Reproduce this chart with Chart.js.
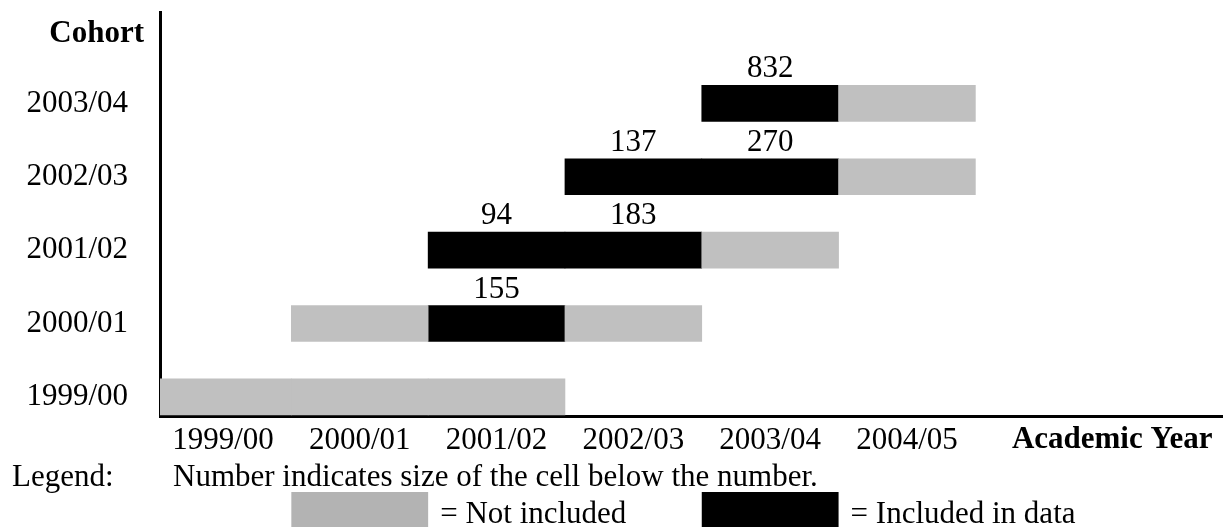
<!DOCTYPE html>
<html>
<head>
<meta charset="utf-8">
<title>Cohorts by academic year</title>
<script src="https://cdn.jsdelivr.net/npm/chart.js@4.4.1/dist/chart.umd.min.js"></script>
<style>
    html, body { margin: 0; padding: 0; background: #ffffff; }
    canvas { display: block; }
</style>
</head>
<body>
<canvas id="cohortChart" width="1223" height="527"></canvas>
<script>
const academicYears = ["1999/00", "2000/01", "2001/02", "2002/03", "2003/04", "2004/05"];
const cohorts = ["1999/00", "2000/01", "2001/02", "2002/03", "2003/04"];

// one letter per academic year: "-" = no cell, "n" = not included, "i" = included in data
const cohortCells = [
    "nnn---",
    "-nin--",
    "--iin-",
    "---iin",
    "----in",
];

// size of each included cell (printed above it)
const cellSizes = [
    [null, null, null, null, null, null],
    [null, null, 155, null, null, null],
    [null, null, 94, 183, null, null],
    [null, null, null, 137, 270, null],
    [null, null, null, null, 832, null],
];

const yAxisTitle = "Cohort";
const xAxisTitle = "Academic Year";
const legendLabel = "Legend:";
const legendNote = "Number indicates size of the cell below the number.";
const legendNotIncluded = "= Not included";
const legendIncluded = "= Included in data";

const GRAY = "#c0c0c0";
const SWATCH_GRAY = "#b3b3b3";
const BLACK = "#000000";
const FONT = "'Liberation Serif', 'Times New Roman', serif";
const FONT_SIZE = 31;

function buildCells(code) {
    const cells = [];
    cohortCells.forEach((row, r) => {
        row.split("").forEach((c, col) => {
            if (c === code) cells.push({ x: [col, col + 1], y: r });
        });
    });
    return cells;
}

const textPlugin = {
    id: "cohortText",
    afterDatasetsDraw(chart) {
        const { ctx, scales: { x, y } } = chart;
        ctx.save();
        ctx.fillStyle = BLACK;
        ctx.font = `${FONT_SIZE}px ${FONT}`;
        ctx.textAlign = "center";
        ctx.textBaseline = "alphabetic";
        cellSizes.forEach((row, r) => {
            row.forEach((n, col) => {
                if (n === null) return;
                ctx.fillText(String(n), x.getPixelForValue(col + 0.5), y.getPixelForValue(r) - 26);
            });
        });
        ctx.restore();
    },
    afterDraw(chart) {
        const { ctx, scales: { x, y } } = chart;
        ctx.save();
        ctx.fillStyle = BLACK;
        ctx.textBaseline = "alphabetic";

        // axis titles
        ctx.font = `bold ${FONT_SIZE}px ${FONT}`;
        ctx.textAlign = "right";
        ctx.fillText(yAxisTitle, x.left - 16, 42);
        ctx.textAlign = "center";
        ctx.fillText(xAxisTitle, x.getPixelForValue(7), 448);

        // legend
        ctx.font = `${FONT_SIZE}px ${FONT}`;
        ctx.textAlign = "left";
        ctx.fillText(legendLabel, 12, 486);
        ctx.fillText(legendNote, 173, 486);

        const g0 = x.getPixelForValue(1), g1 = x.getPixelForValue(2);
        const b0 = x.getPixelForValue(4), b1 = x.getPixelForValue(5);
        ctx.fillStyle = SWATCH_GRAY;
        ctx.fillRect(g0, 492, g1 - g0, 40);
        ctx.fillStyle = BLACK;
        ctx.fillRect(b0, 492, b1 - b0, 40);
        ctx.fillText(legendNotIncluded, g1 + 12, 523);
        ctx.fillText(legendIncluded, b1 + 12, 523);
        ctx.restore();
    },
};

new Chart(document.getElementById("cohortChart"), {
    type: "bar",
    data: {
        datasets: [
            {
                label: "Not included",
                data: buildCells("n"),
                backgroundColor: GRAY,
                borderWidth: 0,
                grouped: false,
                barThickness: 36,
            },
            {
                label: "Included in data",
                data: buildCells("i"),
                backgroundColor: BLACK,
                borderWidth: 0,
                grouped: false,
                barThickness: 36,
            },
        ],
    },
    options: {
        indexAxis: "y",
        responsive: false,
        animation: false,
        layout: {
            padding: { left: 0, right: 0, top: 12, bottom: 0 },
        },
        plugins: {
            legend: { display: false },
            tooltip: { enabled: false },
        },
        scales: {
            x: {
                type: "linear",
                position: "bottom",
                min: 0.04,
                max: 7.81,
                grid: { display: false, drawTicks: false },
                border: { display: true, color: BLACK, width: 3 },
                afterBuildTicks: (axis) => {
                    axis.ticks = academicYears.map((_, i) => ({ value: i + 0.5 }));
                },
                afterFit: (axis) => {
                    axis.height = 111;
                    axis.paddingLeft = 0;
                    axis.paddingRight = 0;
                },
                ticks: {
                    autoSkip: false,
                    maxRotation: 0,
                    padding: 6,
                    color: BLACK,
                    font: { family: FONT, size: FONT_SIZE },
                    callback: (value, index) => academicYears[index],
                },
            },
            y: {
                type: "linear",
                position: "left",
                offset: false,
                min: -0.26,
                max: 5.245,
                grid: { display: false, drawTicks: false },
                border: { display: true, color: BLACK, width: 3 },
                afterBuildTicks: (axis) => {
                    axis.ticks = cohorts.map((_, i) => ({ value: i }));
                },
                afterFit: (axis) => {
                    axis.width = 160;
                    axis.paddingTop = 0;
                    axis.paddingBottom = 0;
                },
                ticks: {
                    autoSkip: false,
                    padding: 32,
                    color: BLACK,
                    font: { family: FONT, size: FONT_SIZE },
                    callback: (value, index) => cohorts[index],
                },
            },
        },
    },
    plugins: [textPlugin],
});
</script>
</body>
</html>
